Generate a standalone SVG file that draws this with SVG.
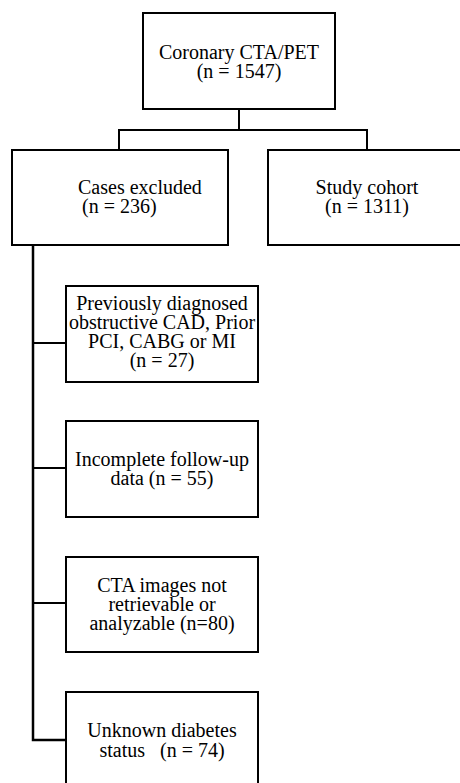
<svg xmlns="http://www.w3.org/2000/svg" width="460" height="783" viewBox="0 0 460 783">
<style>
.box{fill:#fff;stroke:#000;stroke-width:2}
.t{font-family:"Liberation Serif","Times New Roman",serif;font-size:20px;fill:#000}
.c{text-anchor:middle}
.ln{fill:none;stroke:#000;stroke-width:2;stroke-linejoin:miter}
.sp{fill:none;stroke:#000;stroke-width:2.5}
</style>
<rect width="460" height="783" fill="#fff"/>
<g id="connectors">
<polyline class="ln" points="239,109 239,130"/>
<polyline class="ln" points="119,150 119,130 367,130 367,150"/>
<polyline class="sp" points="33,245 33,740 66,740"/>
<line class="ln" x1="33" y1="343" x2="66" y2="343"/>
<line class="ln" x1="33" y1="468" x2="66" y2="468"/>
<line class="ln" x1="33" y1="603" x2="66" y2="603"/>
</g>
<g id="n0">
<rect class="box" x="143" y="13" width="192" height="96"/>
<text class="t c" x="239" y="59">Coronary CTA/PET</text>
<text class="t c" x="239" y="78">(n = 1547)</text>
</g>
<g id="n1">
<rect class="box" x="12" y="150" width="216" height="95"/>
<text class="t" x="78" y="194">Cases excluded</text>
<text class="t" x="82" y="213">(n = 236)</text>
</g>
<g id="n2">
<rect class="box" x="268" y="150" width="196" height="95"/>
<text class="t c" x="367" y="194">Study cohort</text>
<text class="t c" x="367" y="213">(n = 1311)</text>
</g>
<g id="n3">
<rect class="box" x="66" y="286" width="192" height="96"/>
<text class="t c" x="162" y="310">Previously diagnosed</text>
<text class="t c" x="162" y="329">obstructive CAD, Prior</text>
<text class="t c" x="162" y="348">PCI, CABG or MI</text>
<text class="t c" x="162" y="367">(n = 27)</text>
</g>
<g id="n4">
<rect class="box" x="66" y="421" width="192" height="96"/>
<text class="t c" x="162" y="466">Incomplete follow-up</text>
<text class="t c" x="162" y="485">data (n = 55)</text>
</g>
<g id="n5">
<rect class="box" x="66" y="557" width="192" height="95"/>
<text class="t c" x="162" y="592">CTA images not</text>
<text class="t c" x="162" y="611">retrievable or</text>
<text class="t c" x="162" y="630">analyzable (n=80)</text>
</g>
<g id="n6">
<rect class="box" x="66" y="692" width="192" height="110"/>
<text class="t c" x="162" y="737">Unknown diabetes</text>
<text class="t c" x="162" y="757" xml:space="preserve" style="white-space:pre">status   (n = 74)</text>
</g>
</svg>
